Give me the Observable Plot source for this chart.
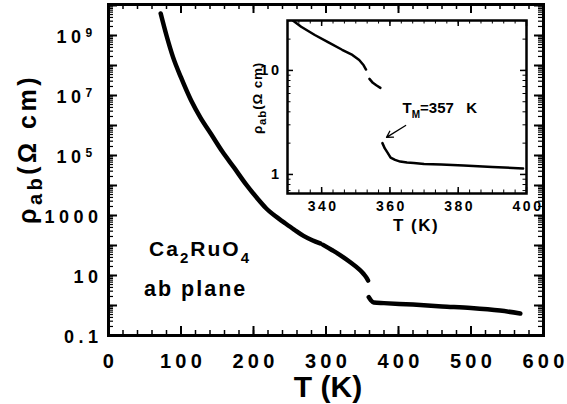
<!DOCTYPE html>
<html><head><meta charset="utf-8">
<script src="https://cdn.jsdelivr.net/npm/d3@7"></script>
<script src="https://cdn.jsdelivr.net/npm/@observablehq/plot@0.6"></script>
<style>
html,body{margin:0;padding:0;background:#fff}
#wrap{position:relative;width:567px;height:404px;overflow:hidden}
#wrap svg{position:absolute;overflow:visible}
text{white-space:pre}
</style></head><body><div id="wrap"></div>
<script>
// ---- main curve: rho_ab (Ohm cm) vs T (K) ----
const mainT   = [72, 80, 89, 100, 114, 127, 141, 157, 173, 190, 206, 217, 230, 242, 256, 269, 281, 292, 294, 296, 308, 320, 334, 345, 352, 356, 358, 358.5, 359, 362, 366, 380, 420, 460, 500, 540, 568];
const mainRho = [5.4e9, 1.0e9, 1.9e8, 4.0e7, 6.8e6, 1.8e6, 5.4e5, 1.35e5, 4.0e4, 1.07e4, 3.55e3, 1.78e3, 955, 590, 340, 210, 150, 117, null, 105, 71, 47, 27, 16.6, 11.2, 8.3, 6.8, null, 1.9, 1.48, 1.26, 1.2, 1.07, 0.93, 0.83, 0.68, 0.54];
// ---- inset curve ----
const insetT   = [330, 334, 338, 342, 346, 349, 351, 352.3, 353, 353.5, 354, 355, 356, 357.2, 357.5, 357.8, 358.5, 359.3, 360.2, 361.5, 363, 365, 367, 370, 375, 381.6, 390, 399];
const insetRho = [33, 26.3, 21.9, 18.6, 15.8, 14.1, 12.6, 11.2, 10.2, null, 8.3, 7.6, 7.2, 6.8, null, 2.0, 1.78, 1.62, 1.45, 1.38, 1.33, 1.30, 1.29, 1.26, 1.245, 1.22, 1.18, 1.14];
// ---- tick labels ----
const mainXTicks = [0, 100, 200, 300, 400, 500, 600];
const mainYTicks = [0.1, 10, 1000, 1e5, 1e7, 1e9];
const mainYMant  = ["0.1", "10", "1000", "10", "10", "10"];
const mainYExp   = ["", "", "", "5", "7", "9"];
const insetXTicks = [340, 360, 380, 400];
const insetYTicks = [1, 10];
const insetYText  = ["1", "10"];
// ---- annotations ----
const sampleLabel = "Ca2RuO4";
const planeLabel = "ab plane";
const tmLabel = "TM=357\u00a0\u00a0 K";
const tmPos = {T: 363.7, rho: 3.86};
const arrowFrom = {T: 364.6, rho: 2.96}, arrowTo = {T: 359.0, rho: 2.27};

const FONT = '"Liberation Sans", Arial, Helvetica, sans-serif';
const NS = "http://www.w3.org/2000/svg";
const wrap = document.getElementById("wrap");

function logMinor(lo, hi) {
  const out = [];
  for (let k = -2; k <= 11; k++) for (let m = 1; m <= 9; m++) {
    const v = m * Math.pow(10, k);
    if (v >= lo * 0.999 && v <= hi * 1.001) out.push(v);
  }
  return out;
}
function rich(svg, plain, parts) {
  for (const t of svg.querySelectorAll("text")) {
    if (t.textContent !== plain) continue;
    t.textContent = "";
    let cur = 0;
    for (const [s, off, fs] of parts) {
      const ts = document.createElementNS(NS, "tspan");
      ts.textContent = s;
      if (off !== cur) ts.setAttribute("dy", off - cur);
      cur = off;
      if (fs) ts.setAttribute("font-size", fs);
      t.appendChild(ts);
    }
  }
}
function spacing(svg, map) {
  for (const g of svg.querySelectorAll('g[aria-label="text"]')) {
    const fs = g.getAttribute("font-size");
    if (fs && map[fs] != null) g.setAttribute("letter-spacing", map[fs]);
  }
}

// ================= main plot =================
const W = 567, H = 404, mL = 108, mR = 24, mT = 4, mB = 69;
const pw = W - mL - mR, ph = H - mT - mB;
const mainData = mainT.map((T, i) => ({T, rho: mainRho[i]}));
const yDom = [0.1, 1.08e10];
const xMinor = d3.range(0, 601, 20);
const yMinor = logMinor(yDom[0], yDom[1]);
const yMajor = d3.range(-1, 11).map(k => Math.pow(10, k)).filter(v => v <= yDom[1]);
const ylab = mainYTicks.map((v, i) => ({v, m: mainYMant[i], e: mainYExp[i]}));

const main = Plot.plot({
  width: W, height: H, marginLeft: mL, marginRight: mR, marginTop: mT, marginBottom: mB,
  x: {domain: [0, 600], axis: null},
  y: {type: "log", domain: yDom, axis: null},
  style: {fontFamily: FONT, background: "transparent", color: "#000"},
  marks: [
    Plot.tickX(xMinor, {x: d => d, insetTop: ph - 5, strokeWidth: 1.5}),
    Plot.tickX(xMinor, {x: d => d, insetBottom: ph - 5, strokeWidth: 1.5}),
    Plot.tickX(mainXTicks, {x: d => d, insetTop: ph - 9, strokeWidth: 2}),
    Plot.tickX(mainXTicks, {x: d => d, insetBottom: ph - 9, strokeWidth: 2}),
    Plot.tickY(yMinor, {y: d => d, insetRight: pw - 5, strokeWidth: 1.2}),
    Plot.tickY(yMinor, {y: d => d, insetLeft: pw - 5, strokeWidth: 1.2}),
    Plot.tickY(yMajor, {y: d => d, insetRight: pw - 9, strokeWidth: 2}),
    Plot.tickY(yMajor, {y: d => d, insetLeft: pw - 9, strokeWidth: 2}),
    Plot.frame({stroke: "#000", strokeWidth: 3}),
    Plot.line(mainData, {x: "T", y: "rho", stroke: "#000", strokeWidth: 4.5, strokeLinecap: "round", strokeLinejoin: "round", curve: "monotone-x"}),
    // x tick labels
    Plot.text(mainXTicks, {x: d => d, frameAnchor: "bottom", lineAnchor: "bottom", textAnchor: "middle", dy: 32, dx: 2, text: d => String(d), fontSize: 20, fontWeight: "bold"}),
    // y tick labels (plain)
    Plot.text(ylab.filter(d => !d.e), {y: "v", frameAnchor: "left", lineAnchor: "bottom", textAnchor: "end", dx: -6, dy: 7, text: "m", fontSize: 18, fontWeight: "bold"}),
    // y tick labels (mantissa with exponent)
    Plot.text(ylab.filter(d => d.e), {y: "v", frameAnchor: "left", lineAnchor: "bottom", textAnchor: "end", dx: -23, dy: 7, text: "m", fontSize: 18, fontWeight: "bold"}),
    Plot.text(ylab.filter(d => d.e), {y: "v", frameAnchor: "left", lineAnchor: "bottom", textAnchor: "start", dx: -23, dy: 1, text: "e", fontSize: 12, fontWeight: "bold"}),
    // axis titles
    Plot.text(["T (K)"], {frameAnchor: "bottom", lineAnchor: "bottom", textAnchor: "middle", dy: 61, dx: 2, text: d => d, fontSize: 30, fontWeight: "bold"}),
    Plot.text(["ρab(Ω cm)"], {frameAnchor: "left", lineAnchor: "bottom", textAnchor: "middle", dx: -73, dy: -21, rotate: -90, text: d => d, fontSize: 25, fontWeight: "bold"}),
    // sample annotation
    Plot.text([{T: 56, rho: 43, s: sampleLabel}], {x: "T", y: "rho", text: "s", textAnchor: "start", lineAnchor: "bottom", fontSize: 21, fontWeight: "bold"}),
    Plot.text([{T: 49, rho: 2.0, s: planeLabel}], {x: "T", y: "rho", text: "s", textAnchor: "start", lineAnchor: "bottom", fontSize: 21.5, fontWeight: "bold"})
  ]
});
main.style.left = "0px"; main.style.top = "0px";
rich(main, "ρab(Ω cm)", [["ρ", 0, null], ["ab", 6, 20], ["(Ω cm)", 0, null]]);
rich(main, sampleLabel, [["Ca", 0, null], ["2", 7, 15], ["RuO", 0, null], ["4", 7, 15]]);
spacing(main, {"20": "4.2", "18": "4.5", "12": "0", "25": "3.5", "21": "2", "21.5": "2"});
wrap.appendChild(main);

// ================= inset =================
const IW = 320, IH = 240, iL = 67, iR = 14, iT = 20, iB = 47;
const ipw = IW - iL - iR, iph = IH - iT - iB;
const insetData = insetT.map((T, i) => ({T, rho: insetRho[i]}));
const iyDom = [0.656, 30.2];
const ixMinor = d3.range(0, 22).map(i => 330 + i * 10 / 3);
const iyMinor = logMinor(iyDom[0], iyDom[1]);
const iyl = insetYTicks.map((v, i) => ({v, t: insetYText[i]}));

const inset = Plot.plot({
  width: IW, height: IH, marginLeft: iL, marginRight: iR, marginTop: iT, marginBottom: iB,
  x: {domain: [330, 400], axis: null},
  y: {type: "log", domain: iyDom, axis: null},
  style: {fontFamily: FONT, background: "transparent", color: "#000"},
  marks: [
    Plot.tickX(ixMinor, {x: d => d, insetTop: iph - 3.5, strokeWidth: 1}),
    Plot.tickX(ixMinor, {x: d => d, insetBottom: iph - 3.5, strokeWidth: 1}),
    Plot.tickX(insetXTicks, {x: d => d, insetTop: iph - 6, strokeWidth: 1.5}),
    Plot.tickX(insetXTicks, {x: d => d, insetBottom: iph - 6, strokeWidth: 1.5}),
    Plot.tickY(iyMinor, {y: d => d, insetRight: ipw - 3.5, strokeWidth: 1}),
    Plot.tickY(iyMinor, {y: d => d, insetLeft: ipw - 3.5, strokeWidth: 1}),
    Plot.tickY(insetYTicks, {y: d => d, insetRight: ipw - 6, strokeWidth: 1.5}),
    Plot.tickY(insetYTicks, {y: d => d, insetLeft: ipw - 6, strokeWidth: 1.5}),
    Plot.frame({stroke: "#000", strokeWidth: 2.5}),
    Plot.line(insetData, {x: "T", y: "rho", stroke: "#000", strokeWidth: 2.5, clip: true}),
    Plot.text(insetXTicks, {x: d => d, frameAnchor: "bottom", lineAnchor: "bottom", textAnchor: "middle", dy: 17, dx: 1.5, text: d => String(d), fontSize: 14, fontWeight: "bold"}),
    Plot.text(iyl, {y: "v", frameAnchor: "left", lineAnchor: "bottom", textAnchor: "end", dx: -6, dy: 5, text: "t", fontSize: 14.5, fontWeight: "bold"}),
    Plot.text(["T (K)"], {frameAnchor: "bottom", lineAnchor: "bottom", textAnchor: "middle", dy: 37, dx: 9, text: d => d, fontSize: 17, fontWeight: "bold"}),
    Plot.text(["ρab(Ω cm)"], {frameAnchor: "left", lineAnchor: "bottom", textAnchor: "middle", dx: -26, dy: -9, rotate: -90, text: d => d, fontSize: 13.5, fontWeight: "bold"}),
    Plot.text([{...tmPos, s: tmLabel}], {x: "T", y: "rho", text: "s", textAnchor: "start", lineAnchor: "bottom", fontSize: 15, fontWeight: "bold"}),
    Plot.arrow([{x1: arrowFrom.T, y1: arrowFrom.rho, x2: arrowTo.T, y2: arrowTo.rho}], {x1: "x1", y1: "y1", x2: "x2", y2: "y2", stroke: "#000", strokeWidth: 1.3, headLength: 8})
  ]
});
inset.style.left = "220px"; inset.style.top = "0px";
rich(inset, "ρab(Ω cm)", [["ρ", 0, null], ["ab", 4, 11.5], ["(Ω cm)", 0, null]]);
rich(inset, tmLabel, [["T", 0, null], ["M", 5, 10], ["=357\u00a0\u00a0 K", 0, null]]);
spacing(inset, {"14": "2.5", "14.5": "2.5", "17": "1.5", "13.5": "0.8", "15": "0"});
wrap.appendChild(inset);
</script></body></html>
